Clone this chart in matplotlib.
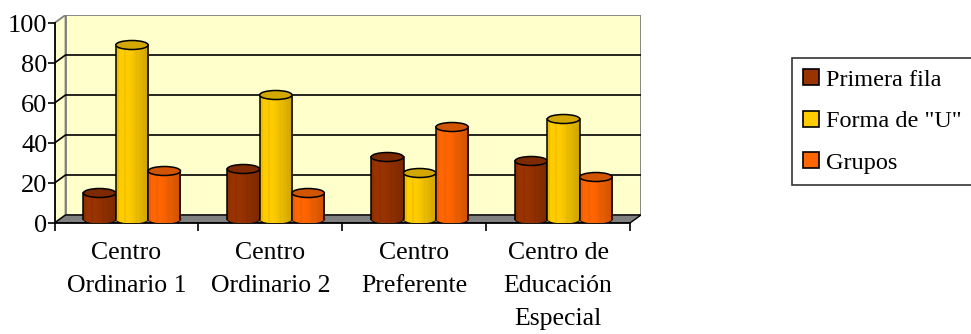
import numpy as np
import matplotlib
matplotlib.use("Agg")
import matplotlib.pyplot as plt
from matplotlib.patches import Ellipse, Polygon, Rectangle
from matplotlib.colors import to_rgb

plt.rcParams['font.family'] = ['Liberation Serif', 'DejaVu Serif']

categorias = ["Centro\nOrdinario 1", "Centro\nOrdinario 2", "Centro\nPreferente",
              "Centro de\nEducación\nEspecial"]
series = ["Primera fila", 'Forma de "U"', "Grupos"]
primera_fila = [13, 25, 31, 29]
forma_u = [87, 62, 23, 50]
grupos = [24, 13, 46, 21]
colores = ["#993300", "#FFCC00", "#FF6600"]
yticks = [0, 20, 40, 60, 80, 100]

valores = [primera_fila, forma_u, grupos]

# depth of the 3d box in data units
DX = 0.0765
DY = 4.0
ANCHO = 0.225
ELIP = 4.5  # height of the cylinder caps

fig = plt.figure(figsize=(9.71, 3.34), dpi=100)
ax = fig.add_axes([54.5 / 971, 111 / 334, (641 - 54.5) / 971, 208 / 334])
ax.set_xlim(0, 4 + DX)
ax.set_ylim(0, 100 + DY)
for s in ax.spines.values():
    s.set_visible(False)
ax.patch.set_visible(False)

# walls and floor
pared = "#FFFFCC"
gris = "#808080"
ax.add_patch(Polygon([(DX, DY), (4 + DX, DY), (4 + DX, 100 + DY), (DX, 100 + DY)],
                     facecolor=pared, edgecolor=gris, lw=1.3, zorder=0))
ax.add_patch(Polygon([(0, 0), (DX, DY), (DX, 100 + DY), (0, 100)],
                     facecolor=pared, edgecolor=gris, lw=1.3, zorder=0))
ax.add_patch(Polygon([(0, 0), (4, 0), (4 + DX, DY), (DX, DY)],
                     facecolor=gris, edgecolor="black", lw=1.0, zorder=1))
for v in yticks[1:-1]:
    ax.plot([0, DX, 4 + DX], [v, v + DY, v + DY], color="black", lw=1.2, zorder=0.5)

# axis lines
ax.plot([0, 0], [0, 100], color="black", lw=1.3, zorder=2, clip_on=False)
ax.plot([0, 4], [0, 0], color="black", lw=1.3, zorder=2, clip_on=False)

# shading across the cylinder body
t = np.linspace(0, 1, 64)
luz = np.where(t < 0.08, 0.93, np.where(t < 0.4, 1.0, 1.0 - 0.2 * (t - 0.4) / 0.6))
luz[(t > 0.25) & (t < 0.3)] = 0.94
luz[(t > 0.6) & (t < 0.65)] = 0.9


def cilindro(xc, v, color, z):
    base = np.array(to_rgb(color))
    img = np.clip(base[None, None, :] * luz[None, :, None], 0, 1)
    tapa = tuple(np.clip(base * 0.82, 0, 1))
    x0 = xc - ANCHO / 2
    y0 = DY / 2
    y1 = v + DY / 2
    fondo = Ellipse((xc, y0), ANCHO, ELIP, facecolor=color, edgecolor="black", lw=1.1, zorder=z)
    ax.add_patch(fondo)
    im = ax.imshow(img, extent=(x0, x0 + ANCHO, y0 - ELIP, y0), aspect="auto", zorder=z + 0.05)
    im.set_clip_path(fondo)
    cuerpo = ax.bar(xc, v, width=ANCHO, bottom=y0, color=color, lw=0, zorder=z + 0.1)[0]
    im = ax.imshow(img, extent=(x0, x0 + ANCHO, y0, y1), aspect="auto", zorder=z + 0.15)
    im.set_clip_path(cuerpo)
    ax.plot([x0, x0], [y0, y1], color="black", lw=1.1, zorder=z + 0.2)
    ax.plot([x0 + ANCHO, x0 + ANCHO], [y0, y1], color="black", lw=1.1, zorder=z + 0.2)
    ax.add_patch(Ellipse((xc, y1), ANCHO, ELIP, facecolor=tapa, edgecolor="black",
                         lw=1.1, zorder=z + 0.3))


for i in range(len(categorias)):
    centro = i + 0.5 + DX / 2
    for j, serie in enumerate(valores):
        xc = centro + (j - 1) * ANCHO
        cilindro(xc, serie[i], colores[j], 3 + i * 3 + j)

ax.set_xlim(0, 4 + DX)
ax.set_ylim(0, 100 + DY)

ax.set_yticks(yticks)
ax.set_yticklabels([str(v) for v in yticks])
ax.tick_params(axis="y", length=5, width=1.2, pad=0, labelsize=19)
ax.set_xticks(range(5))
ax.set_xticklabels([])
ax.set_xticks(np.arange(4) + 0.5, minor=True)
ax.set_xticklabels(categorias, minor=True, fontsize=18.5, linespacing=1.62)
ax.tick_params(axis="x", which="major", length=6, width=1.2)
ax.tick_params(axis="x", which="minor", length=0, pad=14)

handles = [Rectangle((0, 0), 1, 1, facecolor=c, edgecolor="black", lw=1.2) for c in colores]
leg = fig.legend(handles, series, loc="upper left", bbox_to_anchor=(792 / 971, 1 - 58 / 334),
                 borderaxespad=0, fontsize=17.5, frameon=True, fancybox=False,
                 handlelength=0.65, handleheight=0.65, handletextpad=0.3,
                 borderpad=0.45, labelspacing=0.82)
leg.get_frame().set_edgecolor("black")
leg.get_frame().set_linewidth(1.2)

fig.savefig("out.png", dpi=100)
